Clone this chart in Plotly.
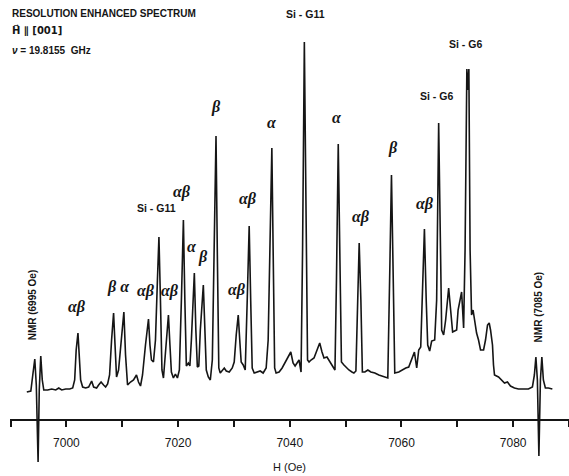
import plotly.graph_objects as go

# Magnetic field (Oe) of the traced spectrum vertices
field_oe = [
    6992.91, 6993.63, 6993.98, 6994.34, 6994.61, 6994.93, 6995.14, 6995.41, 6995.68, 6995.95,
    6996.66, 6997.37, 6998.09, 6998.63, 6999.16, 6999.88, 7000.59, 7001.13, 7001.48, 7001.75,
    7002.07, 7002.29, 7002.55, 7002.91, 7003.45, 7003.98, 7004.52, 7004.88, 7005.41, 7005.77,
    7006.21, 7006.66, 7007.02, 7007.38, 7007.73, 7008.09, 7008.45, 7008.71, 7008.98, 7009.34,
    7009.70, 7010.29, 7010.59, 7010.95, 7011.48, 7012.02, 7012.55, 7012.91, 7013.27, 7013.63,
    7014.16, 7014.70, 7014.96, 7015.23, 7015.59, 7015.95, 7016.30, 7016.57, 7016.84, 7017.11,
    7017.38, 7017.73, 7018.27, 7018.54, 7018.80, 7019.16, 7019.52, 7019.88, 7020.23, 7020.59,
    7020.95, 7021.21, 7021.48, 7021.84, 7022.11, 7022.38, 7022.91, 7023.18, 7023.45, 7023.71,
    7023.98, 7024.52, 7024.79, 7025.05, 7025.41, 7025.77, 7026.13, 7026.48, 7026.79, 7027.02,
    7027.29, 7027.55, 7027.91, 7028.27, 7028.63, 7029.16, 7029.70, 7030.05, 7030.41, 7030.77,
    7031.04, 7031.30, 7031.66, 7032.02, 7032.38, 7032.73, 7033.00, 7033.27, 7033.63, 7034.16,
    7034.70, 7035.23, 7035.77, 7036.13, 7036.48, 7036.79, 7037.02, 7037.29, 7037.55, 7038.09,
    7038.63, 7039.16, 7039.52, 7040.18, 7040.59, 7040.95, 7041.30, 7041.66, 7042.02, 7042.29,
    7042.61, 7042.91, 7043.18, 7043.45, 7043.80, 7044.34, 7044.88, 7045.36, 7045.77, 7046.13,
    7046.66, 7047.20, 7047.73, 7048.09, 7048.36, 7048.68, 7048.98, 7049.25, 7049.70, 7050.05,
    7050.59, 7051.13, 7051.48, 7051.84, 7052.11, 7052.43, 7052.73, 7053.00, 7053.45, 7053.98,
    7054.52, 7055.23, 7055.95, 7056.84, 7057.55, 7057.91, 7058.21, 7058.50, 7058.80, 7059.52,
    7060.05, 7060.77, 7061.30, 7061.84, 7062.32, 7062.73, 7063.09, 7063.45, 7063.80, 7064.11,
    7064.43, 7064.70, 7065.05, 7065.41, 7065.95, 7066.30, 7066.66, 7066.93, 7067.20, 7067.55,
    7067.91, 7068.45, 7068.80, 7069.16, 7069.52, 7069.88, 7070.14, 7070.41, 7070.59, 7070.77,
    7070.95, 7071.13, 7071.39, 7071.71, 7071.89, 7072.07, 7072.29, 7072.55, 7072.82, 7073.09,
    7073.45, 7073.80, 7074.16, 7074.70, 7075.05, 7075.41, 7075.71, 7075.95, 7076.30, 7076.48,
    7076.66, 7077.38, 7077.91, 7078.45, 7078.98, 7079.52, 7080.23, 7080.95, 7081.84, 7082.73,
    7083.45, 7083.80, 7084.07, 7084.34, 7084.61, 7084.88, 7085.14, 7085.41, 7085.77, 7086.30,
    7087.02,
]

# EPR signal (arbitrary units) at each vertex
signal = [
    -1, 0, 16, 32, 6, -71, 1, 35, 11, 1,
    1, 2, 1, 3, 1, 2, 2, 3, 11, 41,
    58, 39, 11, 4, 3, 4, 10, 4, 3, 6,
    9, 6, 4, 7, 16, 51, 78, 46, 14, 21,
    46, 79, 36, 6, 9, 11, 16, 9, 5, 16,
    46, 72, 46, 31, 29, 51, 111, 154, 91, 21,
    13, 36, 76, 46, 19, 13, 17, 13, 21, 91,
    171, 91, 25, 28, 25, 51, 118, 61, 24, 25,
    61, 106, 61, 21, 14, 11, 31, 171, 255, 141,
    23, 18, 21, 23, 20, 19, 23, 29, 56, 76,
    51, 29, 26, 21, 91, 165, 91, 23, 18, 19,
    20, 18, 23, 51, 161, 243, 141, 23, 18, 19,
    23, 29, 33, 39, 28, 25, 28, 31, 19, 141,
    349, 191, 31, 29, 31, 33, 41, 48, 39, 33,
    34, 29, 25, 21, 111, 247, 131, 29, 26, 24,
    21, 19, 18, 20, 81, 148, 91, 19, 19, 21,
    19, 18, 16, 14, 13, 121, 216, 121, 18, 19,
    21, 23, 24, 33, 39, 23, 41, 44, 101, 162,
    91, 46, 40, 50, 51, 91, 268, 141, 61, 56,
    71, 103, 81, 59, 60, 61, 81, 89, 96, 99,
    81, 63, 141, 322, 301, 322, 141, 76, 81, 69,
    58, 51, 41, 41, 51, 66, 68, 61, 46, 26,
    16, 14, 11, 8, 9, 5, 3, 2, 2, 2,
    4, 16, 34, 11, -65, 11, 34, 11, 3, 3,
    2,
]

# Peak assignments
peak_labels = ["αβ", "β α", "αβ", "αβ", "αβ", "α", "β", "β", "αβ", "αβ",
               "α", "α", "αβ", "β", "αβ"]
peak_label_field = [7001.84, 7009.34, 7014.34, 7018.63, 7020.77, 7022.55, 7024.52,
                    7026.84, 7030.59, 7032.55, 7036.84, 7048.45, 7052.73, 7058.45, 7064.16]
peak_label_level = [84, 104, 100, 100, 199, 145, 134, 284, 101, 192, 269, 274, 174, 243, 187]

si_labels = ["Si - G11", "Si - G11", "Si - G6", "Si - G6"]
si_label_field = [7016.16, 7042.73, 7066.30, 7071.48]
si_label_level = [183, 377, 295, 347]

nmr_labels = ["NMR (6995 Oe)", "NMR (7085 Oe)"]
nmr_label_field = [6993.9, 7084.52]
nmr_label_level = [86, 84]

x_tick_step = 20

SANS = "Liberation Sans, Arial, sans-serif"
SYMB = "DejaVu Sans, sans-serif"
GREEK = "Liberation Serif, DejaVu Serif, serif"
INK = "#151515"

fig = go.Figure()
fig.add_trace(go.Scatter(
    x=field_oe, y=signal, mode="lines",
    line=dict(color=INK, width=1.6),
    hoverinfo="skip", showlegend=False,
))

annotations = []
for t, x, y in zip(peak_labels, peak_label_field, peak_label_level):
    annotations.append(dict(x=x, y=y, xref="x", yref="y", text="<b><i>" + t + "</i></b>",
                            showarrow=False, font=dict(family=GREEK, size=16, color=INK)))
for t, x, y in zip(si_labels, si_label_field, si_label_level):
    annotations.append(dict(x=x, y=y, xref="x", yref="y", text="<b>" + t + "</b>",
                            showarrow=False, font=dict(family=SANS, size=10.5, color=INK)))
for t, x, y in zip(nmr_labels, nmr_label_field, nmr_label_level):
    annotations.append(dict(x=x, y=y, xref="x", yref="y", text="<b>" + t + "</b>",
                            textangle=-90, showarrow=False,
                            font=dict(family=SANS, size=10, color=INK)))

W, H = 569, 476
L = 10


def px(xp, yp):
    return (xp - L) / (W - L), (H - yp) / H


header = [
    ("<b>RESOLUTION ENHANCED SPECTRUM</b>", 10, 13, 10, SANS),
    ("<b>H\u20d7 \u2225 [001]</b>", 10, 31, 10, SYMB),
    ("<b><i>\u03bd</i> = 19.8155  GHz</b>", 10, 51, 10, SANS),
]
for t, xp, yp, s, fam in header:
    ax, ay = px(xp, yp)
    annotations.append(dict(x=ax, y=ay, xref="paper", yref="paper", text=t,
                            showarrow=False, xanchor="left", yanchor="middle",
                            font=dict(family=fam, size=s, color=INK)))
ax, ay = px(289, 467)
annotations.append(dict(x=ax, y=ay, xref="paper", yref="paper", text="H (Oe)",
                        showarrow=False, xanchor="center", yanchor="middle",
                        font=dict(family=SANS, size=11, color=INK)))

fig.update_layout(
    width=W, height=H,
    margin=dict(l=L, r=0, t=0, b=0),
    paper_bgcolor="white", plot_bgcolor="white",
    annotations=annotations,
    xaxis=dict(
        range=[6989.9, 7090], anchor="free", position=(H - 420) / H,
        showline=True, linecolor=INK, linewidth=1.5,
        showgrid=False, zeroline=False,
        tick0=7000, dtick=x_tick_step, ticks="outside", ticklen=6, tickwidth=1.5, tickcolor=INK,
        ticklabelstandoff=6,
        tickfont=dict(family=SANS, size=12, color=INK),
        minor=dict(dtick=10, ticks="outside", ticklen=6, tickwidth=1.5, tickcolor=INK, showgrid=False),
    ),
    yaxis=dict(range=[-85, 391], visible=False, domain=[0, 1]),
)

fig.write_html("out.html")
